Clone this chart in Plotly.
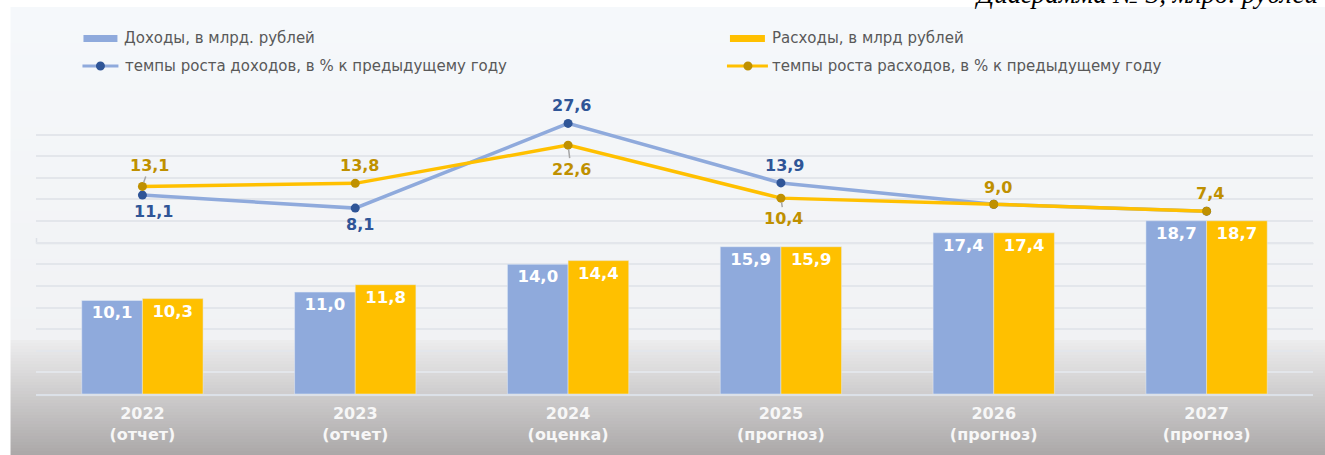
import plotly.graph_objects as go

# ---------------- data ----------------
years = ["2022", "2023", "2024", "2025", "2026", "2027"]
year_notes = ["(отчет)", "(отчет)", "(оценка)", "(прогноз)", "(прогноз)", "(прогноз)"]
income = [10.1, 11.0, 14.0, 15.9, 17.4, 18.7]
expense = [10.3, 11.8, 14.4, 15.9, 17.4, 18.7]
income_growth = [11.1, 8.1, 27.6, 13.9, 9.0, 7.4]
expense_growth = [13.1, 13.8, 22.6, 10.4, 9.0, 7.4]
income_growth_labeled = [True, True, True, True, False, False]

name_income = "Доходы, в млрд. рублей"
name_expense = "Расходы, в млрд рублей"
name_income_g = "темпы роста доходов, в % к предыдущему году"
name_expense_g = "темпы роста расходов, в % к предыдущему году"
caption = "Диаграмма № 3, млрд. рублей"

# ---------------- style ----------------
C_INC = "#8FAADC"
C_EXP = "#FFC000"
C_INC_DARK = "#2F5597"
C_EXP_DARK = "#BF9000"
C_TEXT = "#595959"
FONT = "DejaVu Sans"

W, Hh = 1325, 455
L, R, T, B = 35.5, 1313.5, 113, 394
PW, PH = R - L, B - T


def px(x):
    return (x - L) / PW


def py(y):
    return (B - y) / PH


def fmt(v):
    return f"{v:.1f}".replace(".", ",")


idx = list(range(len(years)))

fig = go.Figure()

fig.add_trace(go.Bar(
    x=idx, y=income, name=name_income, marker_color=C_INC,
    text=[fmt(v) for v in income], textposition="inside", insidetextanchor="end",
    textfont=dict(family=FONT, size=16.5, color="white", weight="bold"),
    showlegend=False, yaxis="y", cliponaxis=False,
))
fig.add_trace(go.Bar(
    x=idx, y=expense, name=name_expense, marker_color=C_EXP,
    text=[fmt(v) for v in expense], textposition="inside", insidetextanchor="end",
    textfont=dict(family=FONT, size=16.5, color="white", weight="bold"),
    showlegend=False, yaxis="y", cliponaxis=False,
))
fig.add_trace(go.Scatter(
    x=idx, y=income_growth, name=name_income_g, mode="lines+markers",
    line=dict(color=C_INC, width=3.5), marker=dict(color=C_INC_DARK, size=9),
    showlegend=False, yaxis="y2", cliponaxis=False,
))
fig.add_trace(go.Scatter(
    x=idx, y=expense_growth, name=name_expense_g, mode="lines+markers",
    line=dict(color=C_EXP, width=3.5), marker=dict(color=C_EXP_DARK, size=9),
    showlegend=False, yaxis="y2", cliponaxis=False,
))

# ---------------- labels on lines ----------------
ann = []
lab_font_inc = dict(family=FONT, size=16, color=C_INC_DARK, weight="bold")
lab_font_exp = dict(family=FONT, size=16, color=C_EXP_DARK, weight="bold")
inc_off = [(11, -16), (5, -16), (3, 18), (4, 17), (0, 0), (0, 0)]
for i, v in zip(idx, income_growth):
    if not income_growth_labeled[i]:
        continue
    dx, dy = inc_off[i]
    ann.append(dict(x=i, y=v, xref="x", yref="y2", text=fmt(v), showarrow=False,
                    xshift=dx, yshift=dy, font=lab_font_inc))
# (dx, dy, leader) ; for leader labels dy is in screen pixels (positive = downwards)
exp_off = [(7, -21, True), (4, 18, False), (3, 24, True), (3, 20, True), (4, 17, False), (3, 18, False)]
for i, v in zip(idx, expense_growth):
    dx, dy, lead = exp_off[i]
    if lead:
        ann.append(dict(x=i, y=v, xref="x", yref="y2", text=fmt(v), showarrow=True,
                        ax=dx, ay=dy, arrowhead=0,
                        arrowcolor="#A6A6A6", arrowwidth=1.5, standoff=4,
                        font=lab_font_exp))
    else:
        ann.append(dict(x=i, y=v, xref="x", yref="y2", text=fmt(v), showarrow=False,
                        xshift=dx, yshift=dy, font=lab_font_exp))

# ---------------- background panel with gradient ----------------
shapes = []


def lerp(c1, c2, t):
    return tuple(round(a + (b - a) * t) for a, b in zip(c1, c2))


def rgb(c):
    return f"rgb({c[0]},{c[1]},{c[2]})"


top_c1, top_c2 = (245, 248, 251), (241, 242, 244)
bot_c1, bot_c2 = (236, 236, 237), (170, 167, 167)
y = 7
while y < 340:
    y2 = min(y + 12, 340)
    t = (y - 7) / (340 - 7)
    shapes.append(dict(type="rect", xref="paper", yref="paper", x0=px(10), x1=px(1326),
                       y0=py(y2), y1=py(y), fillcolor=rgb(lerp(top_c1, top_c2, t)),
                       line=dict(width=0), layer="below"))
    y = y2
y = 340
while y < 455:
    y2 = min(y + 3, 456)
    t = (y - 340) / (455 - 340)
    shapes.append(dict(type="rect", xref="paper", yref="paper", x0=px(10), x1=px(1326),
                       y0=py(y2), y1=py(y), fillcolor=rgb(lerp(bot_c1, bot_c2, t)),
                       line=dict(width=0), layer="below"))
    y = y2

# separation line of the upper (growth rate) area + small tick
shapes.append(dict(type="line", xref="paper", yref="paper", x0=px(36), x1=px(1314),
                   y0=py(243.5), y1=py(243.5), line=dict(color="#DDE1E7", width=1.5), layer="below"))
shapes.append(dict(type="line", xref="paper", yref="paper", x0=px(36), x1=px(36),
                   y0=py(243.5), y1=py(238), line=dict(color="#DDE1E7", width=1.5), layer="below"))

# ---------------- manual legend ----------------
leg_font = dict(family=FONT, size=15, color=C_TEXT)
shapes.append(dict(type="rect", xref="paper", yref="paper", x0=px(83), x1=px(117),
                   y0=py(42), y1=py(35), fillcolor=C_INC, line=dict(width=0)))
shapes.append(dict(type="rect", xref="paper", yref="paper", x0=px(730), x1=px(765),
                   y0=py(42), y1=py(35), fillcolor=C_EXP, line=dict(width=0)))
for (x0, x1, xm, lc, mc) in [(82, 118, 100, C_INC, C_INC_DARK), (727, 768, 748, C_EXP, C_EXP_DARK)]:
    shapes.append(dict(type="line", xref="paper", yref="paper", x0=px(x0), x1=px(x1),
                       y0=py(66), y1=py(66), line=dict(color=lc, width=3)))
    shapes.append(dict(type="circle", xref="paper", yref="paper", x0=px(xm - 4.5), x1=px(xm + 4.5),
                       y0=py(70.5), y1=py(61.5), fillcolor=mc, line=dict(width=0)))
for (x, yy, txt) in [(122, 38, name_income), (770, 38, name_expense),
                     (123, 66, name_income_g), (770, 66, name_expense_g)]:
    ann.append(dict(xref="paper", yref="paper", x=px(x), y=py(yy), text=txt, showarrow=False,
                    xanchor="left", yanchor="middle", font=leg_font))

# caption (partly cut at the top edge, as in the source)
ann.append(dict(xref="paper", yref="paper", x=px(972), y=py(11), text=f"<i>{caption}</i>",
                showarrow=False, xanchor="left", yanchor="bottom",
                font=dict(family="Liberation Serif", size=27, color="#000000")))

ticktext = [f"<b>{y}<br>{n}</b>" for y, n in zip(years, year_notes)]

fig.update_layout(
    width=W, height=Hh,
    margin=dict(l=L, r=W - R, t=T, b=Hh - B, pad=0),
    paper_bgcolor="white", plot_bgcolor="rgba(0,0,0,0)",
    barmode="group", bargap=0.43, bargroupgap=0,
    shapes=shapes, annotations=ann,
    xaxis=dict(range=[-0.5, 5.5], tickvals=idx, ticktext=ticktext,
               tickfont=dict(family=FONT, size=16, color="#F7F7F7"),
               showline=True, linecolor="#DCE1E8", linewidth=1.5, ticks="",
               showgrid=False, zeroline=False, ticklabelstandoff=4),
    yaxis=dict(range=[0, 13 * 7 / 3], tick0=0, dtick=7 / 3, showgrid=True,
               gridcolor="#E3E6EB", gridwidth=1.5, showticklabels=False,
               zeroline=False, showline=False, ticks=""),
    yaxis2=dict(range=[-34.7, 30], overlaying="y", showgrid=False, showticklabels=False,
                zeroline=False, showline=False, ticks=""),
    font=dict(family=FONT),
)

fig.write_html("out.html", config={"displayModeBar": False},
               post_script="document.body.style.margin='0';")
